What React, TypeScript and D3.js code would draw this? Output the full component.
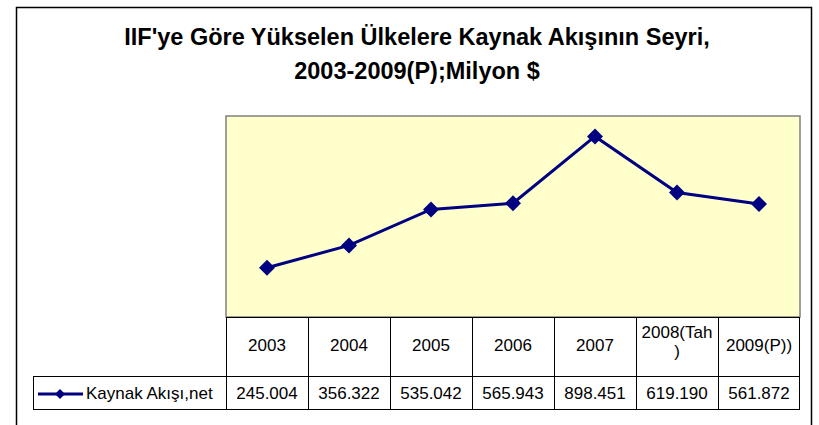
import React from 'react';
import * as d3 from 'd3';

const categories = ['2003', '2004', '2005', '2006', '2007', '2008(Tah)', '2009(P))'];
const headerLines = [['2003'], ['2004'], ['2005'], ['2006'], ['2007'], ['2008(Tah', ')'], ['2009(P))']];
const values = [245.004, 356.322, 535.042, 565.943, 898.451, 619.19, 561.872];
const valueLabels = ['245.004', '356.322', '535.042', '565.943', '898.451', '619.190', '561.872'];
const seriesName = 'Kaynak Akışı,net';
const titleLines = ["IIF'ye Göre Yükselen Ülkelere Kaynak Akışının Seyri,", '2003-2009(P);Milyon $'];

const W = 819;
const H = 425;
const plot = { left: 226, right: 800, top: 116, bottom: 317 };
const rowMid = 376;
const tableBottom = 409;
const legendLeft = 33;
const font = "Arial, 'Liberation Sans', sans-serif";
const navy = '#000080';

function diamond(cx: number, cy: number, r: number) {
  return `M${cx},${cy - r}L${cx + r},${cy}L${cx},${cy + r}L${cx - r},${cy}Z`;
}

export default function App() {
  const x = d3.scaleBand<string>().domain(categories).range([plot.left, plot.right]);
  const y = d3.scaleLinear().domain([0, 1000]).range([plot.bottom, plot.top]);

  const pts = values.map((v, i) => [x(categories[i])! + x.bandwidth() / 2, y(v)] as [number, number]);
  const line = d3.line()(pts) || '';

  return (
    <svg width={W} height={H} style={{ position: 'absolute', left: 0, top: 0 }}>
      <rect x={0} y={0} width={W} height={H} fill="#fff" />
      <rect x={16.5} y={7.5} width={795} height={430} fill="#fff" stroke="#000" strokeWidth={1.5} />

      {titleLines.map((t, i) => (
        <text key={i} x={417} y={45 + i * 34} textAnchor="middle" fontFamily={font} fontWeight="bold" fontSize={23.5} fill="#000">
          {t}
        </text>
      ))}

      <rect x={plot.left} y={plot.top} width={plot.right - plot.left} height={plot.bottom - plot.top} fill="#FFFFCC" stroke="#808080" strokeWidth={1.5} />

      <path d={line} fill="none" stroke={navy} strokeWidth={3} />
      {pts.map((p, i) => (
        <path key={i} d={diamond(p[0], p[1], 8)} fill={navy} />
      ))}

      {/* data table */}
      <g stroke="#000" strokeWidth={1} fill="none">
        <line x1={plot.left} x2={plot.right} y1={plot.bottom + 0.5} y2={plot.bottom + 0.5} />
        <line x1={legendLeft} x2={plot.right} y1={rowMid + 0.5} y2={rowMid + 0.5} />
        <line x1={legendLeft} x2={plot.right} y1={tableBottom + 0.5} y2={tableBottom + 0.5} />
        <line x1={legendLeft + 0.5} x2={legendLeft + 0.5} y1={rowMid} y2={tableBottom} />
        {categories.map((c) => (
          <line key={c} x1={x(c)! + 0.5} x2={x(c)! + 0.5} y1={plot.bottom} y2={tableBottom} />
        ))}
        <line x1={plot.right - 0.5} x2={plot.right - 0.5} y1={plot.bottom} y2={tableBottom} />
      </g>

      {categories.map((c, i) => {
        const lines = headerLines[i];
        const cx = x(c)! + x.bandwidth() / 2;
        if (lines.length === 1) {
          return (
            <text key={c} x={cx} y={351} textAnchor="middle" fontFamily={font} fontSize={17} fill="#000">
              {lines[0]}
            </text>
          );
        }
        return (
          <g key={c}>
            {lines.map((l, j) => (
              <text key={j} x={cx} y={338 + j * 19} textAnchor="middle" fontFamily={font} fontSize={17} fill="#000">
                {l}
              </text>
            ))}
          </g>
        );
      })}

      {categories.map((c, i) => (
        <text key={c} x={x(c)! + x.bandwidth() / 2} y={399} textAnchor="middle" fontFamily={font} fontSize={17} fill="#000">
          {valueLabels[i]}
        </text>
      ))}

      <line x1={38} x2={83} y1={394} y2={394} stroke={navy} strokeWidth={3} />
      <path d={diamond(60, 394, 5)} fill={navy} />
      <text x={86} y={399} fontFamily={font} fontSize={17} fill="#000">
        {seriesName}
      </text>
    </svg>
  );
}
